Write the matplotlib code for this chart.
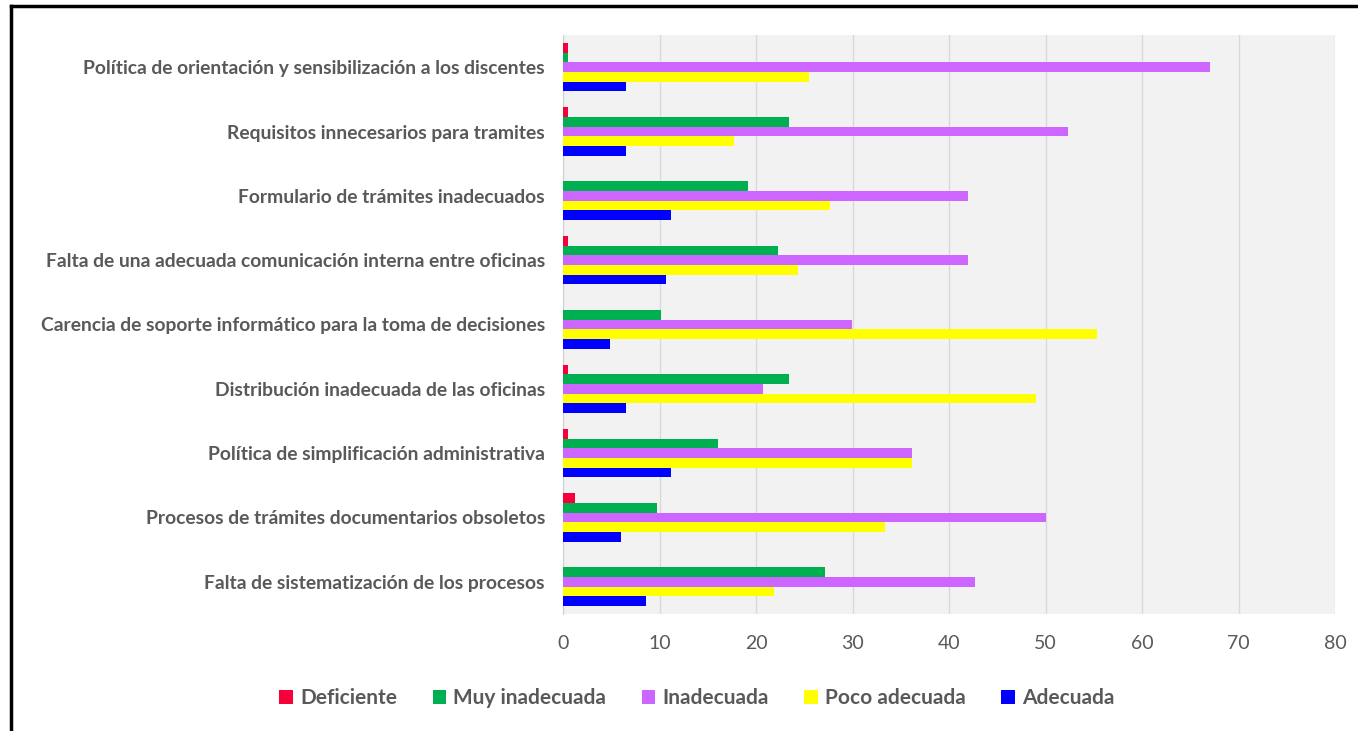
import matplotlib
matplotlib.use("Agg")
import matplotlib.pyplot as plt
import numpy as np
from matplotlib.lines import Line2D

# categories, top to bottom
categorias = [
    "Política de orientación y sensibilización a los discentes",
    "Requisitos innecesarios para tramites",
    "Formulario de trámites inadecuados",
    "Falta de una adecuada comunicación interna entre oficinas",
    "Carencia de soporte informático para la toma de decisiones",
    "Distribución inadecuada de las oficinas",
    "Política de simplificación administrativa",
    "Procesos de trámites documentarios obsoletos",
    "Falta de sistematización de los procesos",
]
deficiente = [0.5, 0.5, 0.0, 0.5, 0.0, 0.5, 0.5, 1.2, 0.0]
muy_inadecuada = [0.5, 23.4, 19.2, 22.3, 10.2, 23.4, 16.1, 9.7, 27.1]
inadecuada = [67.0, 52.3, 42.0, 42.0, 29.9, 20.7, 36.2, 50.0, 42.7]
poco_adecuada = [25.5, 17.7, 27.7, 24.4, 55.3, 49.0, 36.2, 33.4, 21.9]
adecuada = [6.5, 6.5, 11.2, 10.7, 4.9, 6.5, 11.2, 6.0, 8.6]
series_names = ["Deficiente", "Muy inadecuada", "Inadecuada", "Poco adecuada", "Adecuada"]
xticks = [0, 10, 20, 30, 40, 50, 60, 70, 80]

COLORS = ["#f5003a", "#00b050", "#cc66ff", "#ffff00", "#0000ff"]
TXT = "#595959"
FONT = ["Lato", "DejaVu Sans"]
plt.rcParams["font.family"] = FONT

fig = plt.figure(figsize=(13.58, 7.31), dpi=100)
ax = fig.add_axes([563 / 1358, 117 / 731, 772 / 1358, 579 / 731])
ax.set_facecolor("#f2f2f2")

y = np.arange(len(categorias))
h = 0.15
data = [deficiente, muy_inadecuada, inadecuada, poco_adecuada, adecuada]
for k, (vals, col, name) in enumerate(zip(data, COLORS, series_names)):
    ax.barh(y + (k - 2) * h, vals, height=h, color=col, label=name, zorder=3)

ax.set_xlim(0, 80)
ax.set_ylim(len(categorias) - 0.5, -0.5)
ax.set_xticks(xticks)
ax.set_xticklabels([str(t) for t in xticks], color=TXT, fontsize=14)
ax.set_yticks(y)
ax.set_yticklabels(categorias, color=TXT, fontsize=13.9, fontweight="bold")
ax.tick_params(axis="both", length=0)
ax.tick_params(axis="x", pad=15)
ax.tick_params(axis="y", pad=13)
ax.grid(axis="x", color="#d9d9d9", lw=1.0, zorder=0)
for s in ["top", "right", "bottom"]:
    ax.spines[s].set_visible(False)
ax.spines["left"].set_color("#d0d0d0")

leg = fig.legend(loc="center", bbox_to_anchor=(697 / 1358, 1 - 698 / 731), ncol=5,
                 frameon=False, handlelength=0.65, handleheight=0.65, handletextpad=0.35,
                 columnspacing=1.7, prop={"family": FONT, "weight": "bold", "size": 15})
for t in leg.get_texts():
    t.set_color(TXT)

# black frame, cut at top and left
fig.add_artist(Line2D([11 / 1358, 11 / 1358], [0, 1 - 6 / 731], color="black", lw=2.5,
                      transform=fig.transFigure))
fig.add_artist(Line2D([11 / 1358, 1], [1 - 6 / 731, 1 - 6 / 731], color="black", lw=2.5,
                      transform=fig.transFigure))

fig.savefig("out.png", dpi=100)
